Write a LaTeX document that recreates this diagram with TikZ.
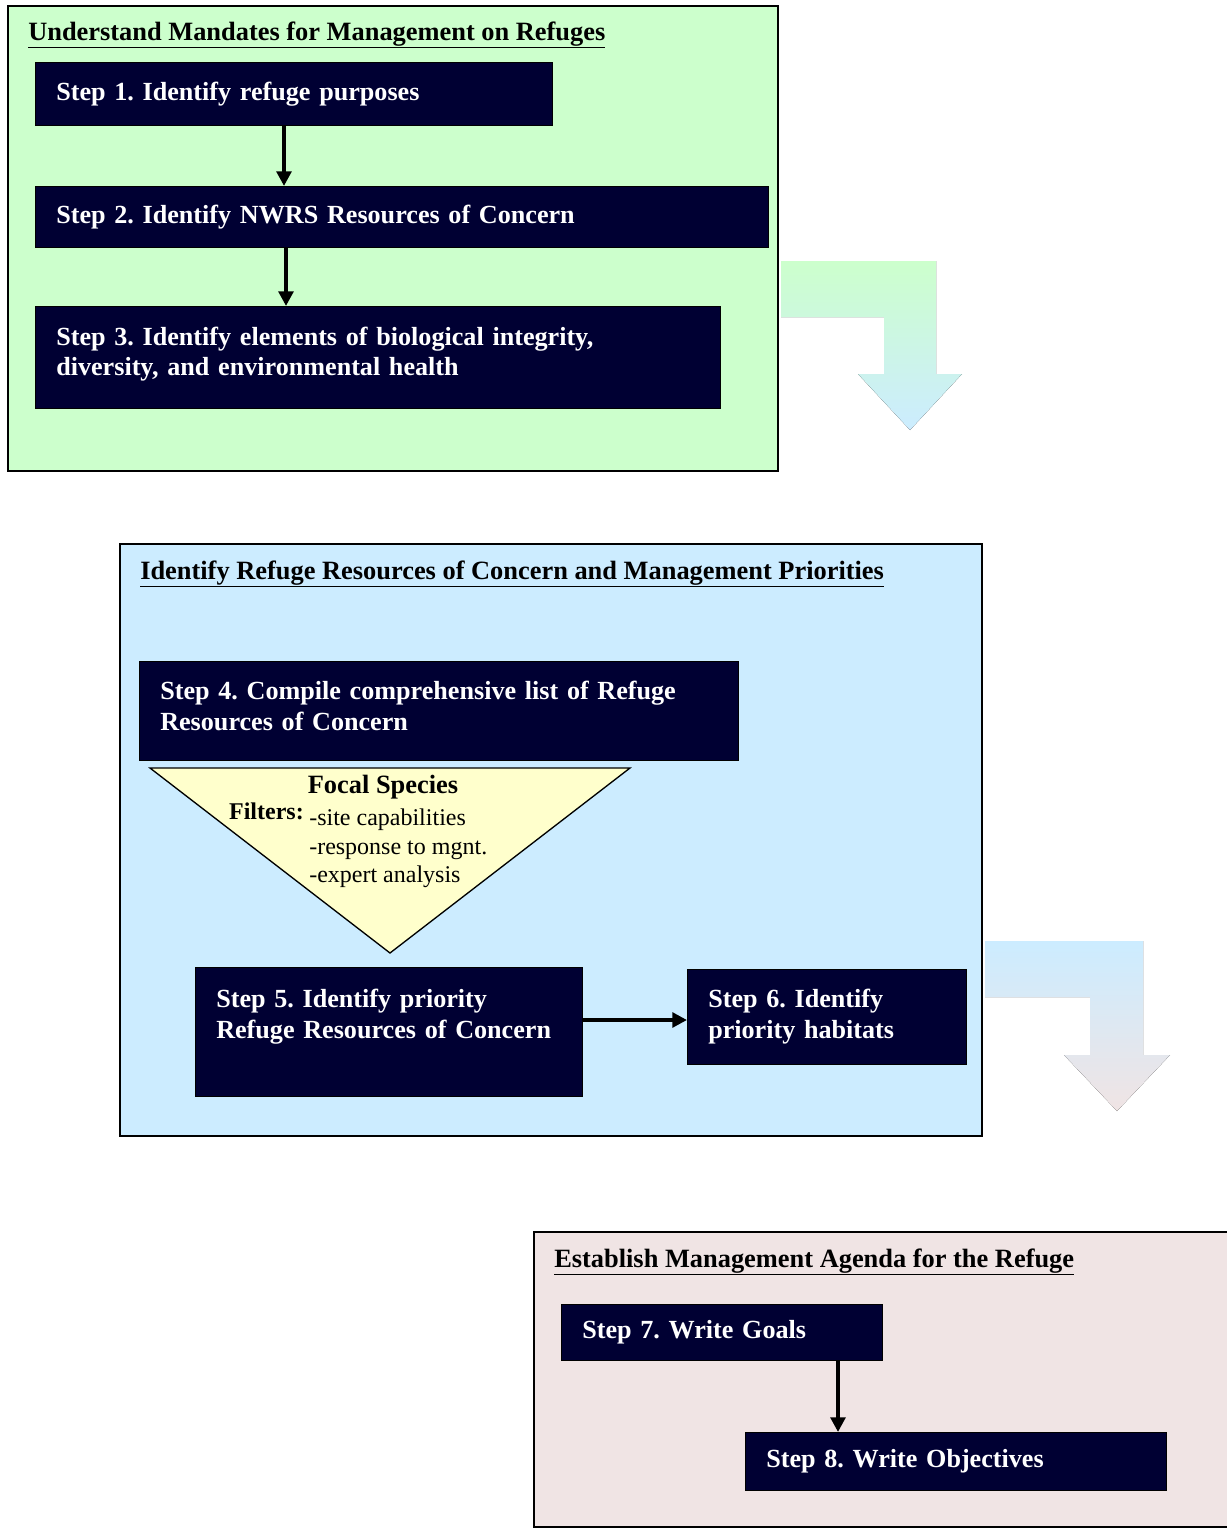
\documentclass[tikz,border=0pt]{standalone}
\usepackage{fontspec}
\setmainfont{Liberation Serif}
\usetikzlibrary{arrows.meta,shadings}
\definecolor{greenbg}{HTML}{CCFFCC}
\definecolor{bluebg}{HTML}{CCECFF}
\definecolor{pinkbg}{HTML}{F0E4E4}
\definecolor{navy}{HTML}{000033}
\definecolor{focal}{HTML}{FFFFCC}
\newcommand{\mydepth}[1]{\rule[-#1]{0pt}{0pt}}
\begin{document}
\frenchspacing
\begin{tikzpicture}[x=0.75pt,y=-0.75pt,
  panel/.style={draw=black,line width=1.5pt},
  stepbox/.style={fill=navy,draw=black,line width=0.4pt,anchor=north west,text=white,
    font=\fontsize{19.6}{23.2}\selectfont\bfseries\frenchspacing,align=left,inner xsep=15.75pt,inner ysep=0pt},
  title/.style={anchor=base west,font=\fontsize{19.8}{23}\selectfont\bfseries,inner sep=0pt},
  flow/.style={line width=2.8pt,-{Triangle[length=11pt,width=11pt]}},
  ftext/.style={font=\fontsize{18}{20}\selectfont,anchor=base west,inner sep=0pt}]
\useasboundingbox (0,0) rectangle (1227,1528);
% ---------- panel 1
\filldraw[panel,fill=greenbg] (8,6) rectangle (778,471);
\node[title] (t1) at (28,40) {\underline{Understand Mandates for Management on Refuges}};
\node[stepbox,minimum width=387.75pt,minimum height=47.25pt,text width=356.25pt] (s1) at (35,62) {Step 1. Identify refuge purposes};
\node[stepbox,minimum width=549.75pt,minimum height=45.75pt,text width=518.25pt] (s2) at (35,186) {Step 2. Identify NWRS Resources of Concern};
\node[stepbox,minimum width=513.75pt,minimum height=76.5pt,text width=482.25pt] (s3) at (35,306) {Step 3. Identify elements of biological integrity,\\diversity, and environmental health\mydepth{9pt}};
\draw[flow] (s1.south -| 284,0) -- (s2.north -| 284,0);
\draw[flow] (s2.south -| 286,0) -- (s3.north -| 286,0);
% bent arrow 1
\fill[top color=greenbg,bottom color=bluebg,middle color=greenbg!50!bluebg]
  (781,261) -- (936,261) -- (936,374) -- (962,374) -- (910,430) -- (858,374) -- (884,374) -- (884,317) -- (781,317) -- cycle;
% ---------- panel 2
\filldraw[panel,fill=bluebg] (120,544) rectangle (982,1136);
\node[title] (t2) at (140,579) {\underline{Identify Refuge Resources of Concern and Management Priorities}};
\node[stepbox,minimum width=449.25pt,minimum height=74.25pt,text width=417.75pt] (s4) at (139,661) {Step 4. Compile comprehensive list of Refuge\\Resources of Concern\mydepth{8pt}};
\coordinate (fa) at (150,768);
\coordinate (fb) at (630,768);
\coordinate (fc) at (390,953);
\filldraw[fill=focal,draw=black,line width=1pt] (fa) -- (fb) -- (fc) -- cycle;
\node[font=\fontsize{19.8}{20}\selectfont\bfseries,anchor=base,inner sep=0pt] (fs) at (383,793) {Focal Species};
\node[font=\fontsize{18}{20}\selectfont\bfseries,anchor=base east,inner sep=0pt] (fl) at (304,819) {Filters:};
\node[ftext] (f1) at (309,825) {-site capabilities};
\node[ftext] (f2) at (309,854) {-response to mgnt.};
\node[ftext] (f3) at (309,882) {-expert analysis};
\node[stepbox,minimum width=290.25pt,minimum height=96.75pt,text width=258.75pt] (s5) at (195,967) {Step 5. Identify priority\\Refuge Resources of Concern\mydepth{27pt}};
\node[stepbox,minimum width=209.25pt,minimum height=71.25pt,text width=177.75pt] (s6) at (687,969) {Step 6. Identify\\priority habitats};
\draw[flow] (s5.east |- 0,1020) -- (s6.west |- 0,1020);
% bent arrow 2
\fill[top color=bluebg,bottom color=pinkbg,middle color=bluebg!50!pinkbg]
  (985,941) -- (1143,941) -- (1143,1055) -- (1170,1055) -- (1117,1111) -- (1064,1055) -- (1090,1055) -- (1090,997) -- (985,997) -- cycle;
% ---------- panel 3
\fill[pinkbg] (534,1232) rectangle (1230,1527);
\draw[panel] (1230,1232) -- (534,1232) -- (534,1527) -- (1230,1527);
\node[title] (t3) at (554,1267) {\underline{Establish Management Agenda for the Refuge}};
\node[stepbox,minimum width=240.75pt,minimum height=42pt,text width=209.25pt] (s7) at (561,1304) {Step 7. Write Goals};
\node[stepbox,minimum width=315.75pt,minimum height=43.5pt,text width=284.25pt] (s8) at (745,1432) {Step 8. Write Objectives};
\draw[flow] (s7.south -| 838,0) -- (s8.north -| 838,0);
\end{tikzpicture}
\end{document}
